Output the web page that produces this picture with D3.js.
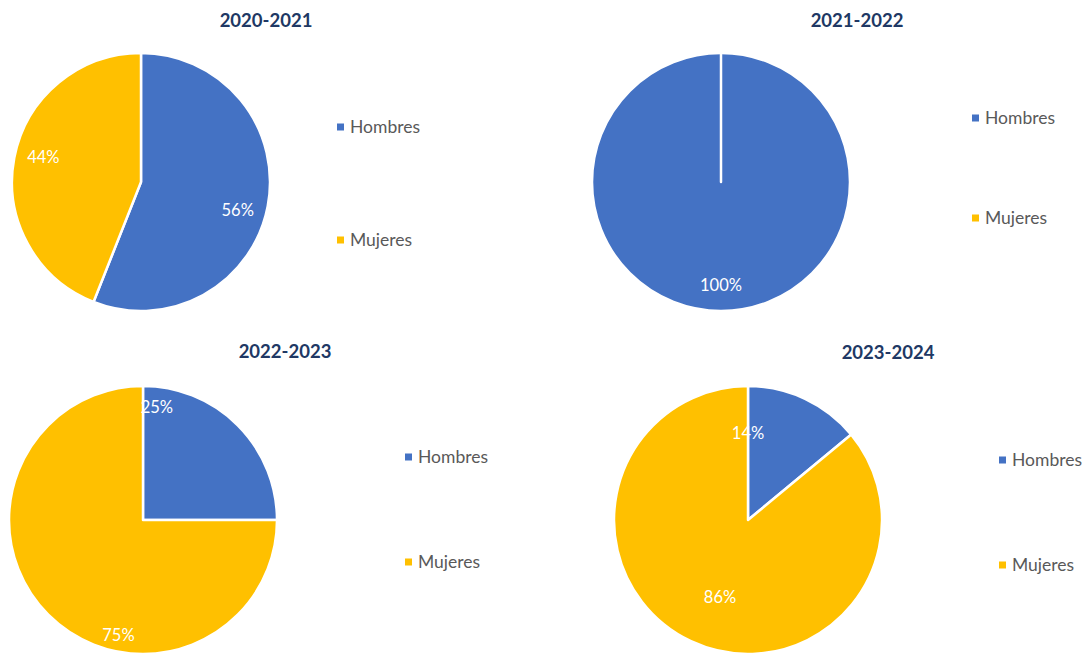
<!DOCTYPE html>
<html>
<head>
<meta charset="utf-8">
<script src="https://cdn.jsdelivr.net/npm/d3@7"></script>
<style>
  html, body { margin: 0; padding: 0; background: #fff; }
  svg { display: block; font-family: Lato, "Open Sans", sans-serif; }
</style>
</head>
<body>
<svg id="chart" width="1086" height="653"></svg>
<script>
// data
const categories = ["Hombres", "Mujeres"];
const periods = ["2020-2021", "2021-2022", "2022-2023", "2023-2024"];
const hombres = [56, 100, 25, 14];
const mujeres = [44, 0, 75, 86];
const colors = ["#4472C4", "#FFC000"];

// layout per panel (centre, radius, title, legend, label placement in degrees / radius fraction)
const layout = [
  { cx: 141, cy: 182, r: 129, tx: 266, ty: 27, lx: 337, ly: [127, 240], lab: [[106, 0.78], [284, 0.78]] },
  { cx: 721, cy: 182, r: 129, tx: 857, ty: 27, lx: 972, ly: [118, 218], lab: [[180, 0.8], null] },
  { cx: 143, cy: 520, r: 134, tx: 285, ty: 358, lx: 405, ly: [457, 562], lab: [[7, 0.85], [192, 0.88]] },
  { cx: 748, cy: 520, r: 134, tx: 888, ty: 359, lx: 999, ly: [460, 565], lab: [[0, 0.65], [200, 0.61]] }
];

const svg = d3.select("#chart");
const pie = d3.pie().sort(null).value(d => d.v);

periods.forEach((p, i) => {
    const L = layout[i];
    const vals = [hombres[i], mujeres[i]];
    const rows = categories.map((c, j) => ({ c: c, v: vals[j], j: j }));
    const total = d3.sum(vals);
    const arc = d3.arc().innerRadius(0).outerRadius(L.r);

    const g = svg.append("g").attr("transform", `translate(${L.cx},${L.cy})`);

    g.selectAll("path")
        .data(pie(rows))
        .enter()
        .append("path")
        .attr("d", arc)
        .attr("fill", d => colors[d.data.j])
        .attr("stroke", "#fff")
        .attr("stroke-width", 2.5)
        .attr("stroke-linejoin", "round");

    // percentage labels
    g.selectAll("text.lbl")
        .data(pie(rows).filter(d => d.data.v > 0))
        .enter()
        .append("text")
        .attr("class", "lbl")
        .attr("transform", d => {
            const pl = L.lab[d.data.j];
            const a = pl[0] * Math.PI / 180, rr = pl[1] * L.r;
            return `translate(${rr * Math.sin(a)},${-rr * Math.cos(a)})`;
        })
        .attr("text-anchor", "middle")
        .attr("dy", "0.35em")
        .attr("fill", "#fff")
        .style("font-size", "16.5px")
        .text(d => d3.format(".0%")(d.data.v / total));

    // title
    svg.append("text")
        .attr("x", L.tx)
        .attr("y", L.ty)
        .attr("text-anchor", "middle")
        .attr("fill", "#203864")
        .style("font-size", "18.5px")
        .style("font-weight", "bold")
        .text(p);

    // legend
    const lg = svg.append("g");
    categories.forEach((c, j) => {
        lg.append("rect")
            .attr("x", L.lx)
            .attr("y", L.ly[j] - 3.5)
            .attr("width", 7)
            .attr("height", 7)
            .attr("fill", colors[j]);
        lg.append("text")
            .attr("x", L.lx + 13)
            .attr("y", L.ly[j])
            .attr("dy", "0.35em")
            .attr("fill", "#595959")
            .style("font-size", "17.5px")
            .text(c);
    });
});
</script>
</body>
</html>
